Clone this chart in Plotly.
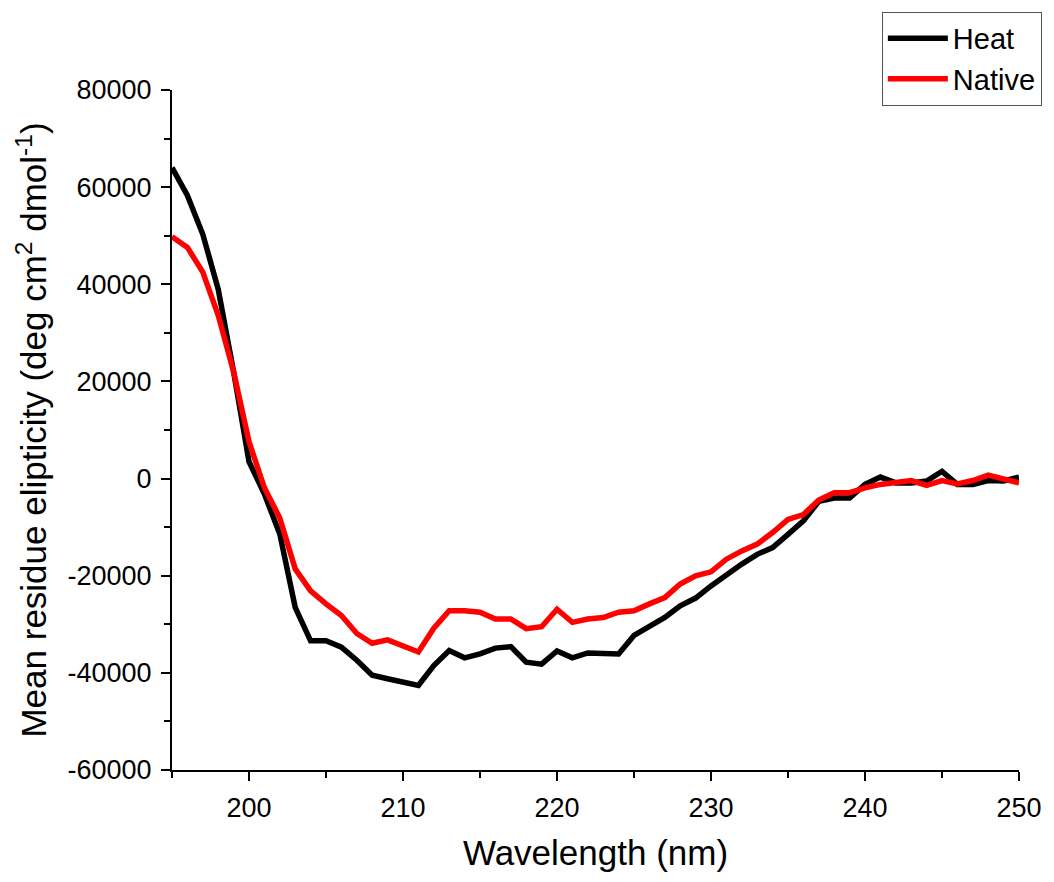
import plotly.graph_objects as go

# Wavelength grid (nm), 1 nm steps
wavelength = list(range(195, 251))

# Mean residue ellipticity (deg cm^2 dmol^-1)
heat = [
    64000, 58300, 50300, 39000, 22000, 3500, -3200, -11400, -26500, -33400,
    -33400, -34700, -37400, -40500, -41200, -41900, -42600, -38500, -35400, -36900,
    -36100, -34900, -34600, -37800, -38200, -35500, -36900, -35900, -35900, -36100,
    -32300, -30300, -28600, -26200, -24600, -22100, -19700, -17600, -15600, -14200,
    -11500, -8700, -4700, -4000, -4000, -1200, 300, -900, -900, -500,
    1500, -1200, -1200, -400, -500, 300,
]
native = [
    49800, 47600, 42500, 33600, 22000, 7600, -1900, -8100, -18600, -23100,
    -25800, -28200, -31900, -33900, -33200, -34400, -35700, -30800, -27200, -27200,
    -27500, -28900, -28900, -30900, -30500, -26900, -29600, -28900, -28600, -27500,
    -27200, -25800, -24500, -21700, -20000, -19200, -16600, -14900, -13500, -11100,
    -8400, -7400, -4400, -2900, -2900, -1900, -1200, -800, -400, -1400,
    -400, -1100, -400, 700, 0, -900,
]

x_ticks = [200, 210, 220, 230, 240, 250]
y_ticks = [-60000, -40000, -20000, 0, 20000, 40000, 60000, 80000]
y_tick_labels = [str(v) for v in y_ticks]

FONT = "Liberation Sans, Arial, sans-serif"

fig = go.Figure()
fig.add_trace(go.Scatter(x=wavelength, y=heat, mode="lines", name="Heat",
                         line=dict(color="#000000", width=5.5)))
fig.add_trace(go.Scatter(x=wavelength, y=native, mode="lines", name="Native",
                         line=dict(color="#ff0000", width=5.5)))

axis_common = dict(
    showline=True, linecolor="black", linewidth=2,
    showgrid=False, zeroline=False, mirror=False,
    ticks="outside", ticklen=9, tickwidth=2, tickcolor="black",
    tickfont=dict(family=FONT, size=27, color="black"),
    ticklabelstandoff=4,
)

fig.update_xaxes(
    range=[195, 250], tickvals=x_ticks,
    minor=dict(dtick=5, tick0=195, ticks="outside", ticklen=6, tickwidth=2, tickcolor="black"),
    title=dict(text="Wavelength (nm)", font=dict(family=FONT, size=35, color="black"), standoff=18),
    **axis_common,
)
fig.update_yaxes(
    range=[-60000, 80000], tickvals=y_ticks, ticktext=y_tick_labels,
    minor=dict(dtick=10000, tick0=0, ticks="outside", ticklen=6, tickwidth=2, tickcolor="black"),
    title=dict(text="Mean residue elipticity (deg cm<sup>2</sup> dmol<sup>-1</sup>)",
               font=dict(family=FONT, size=35, color="black"), standoff=10),
    **axis_common,
)

fig.update_layout(
    width=1054, height=882,
    margin=dict(l=172, r=32, t=87, b=112),
    plot_bgcolor="white", paper_bgcolor="white",
    showlegend=True,
    legend=dict(
        x=1.027, y=1.115, xanchor="right", yanchor="top",
        bgcolor="white", bordercolor="#555555", borderwidth=1,
        font=dict(family=FONT, size=29, color="black"),
        tracegroupgap=0, itemwidth=60,
    ),
)

fig.write_html("out.html")
